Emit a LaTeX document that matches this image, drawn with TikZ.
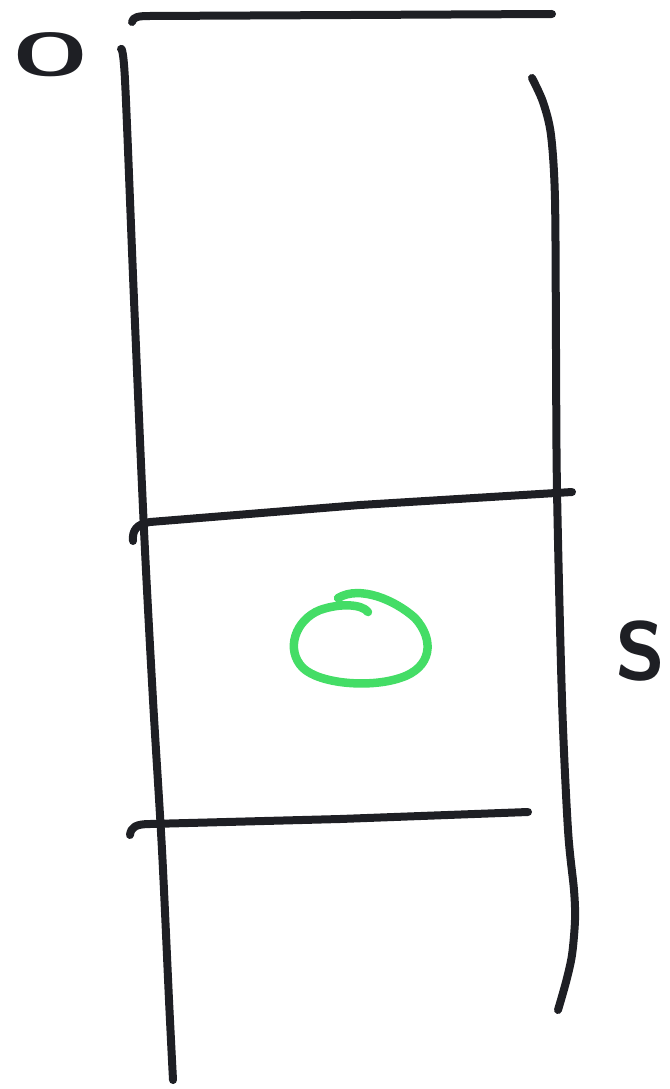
\documentclass[tikz,border=0pt]{standalone}
\usepackage{xcolor}
\usepackage{tikz}
\definecolor{ink}{HTML}{1E1F24}
\definecolor{marker}{HTML}{44DD66}

\begin{document}
\begin{tikzpicture}[x=1pt,y=-1pt,
  stroke/.style={draw=ink,line width=8pt,line cap=round,line join=round},
  loopline/.style={draw=marker,line width=8.5pt,line cap=round,line join=round},
  letter/.style={text=ink,font=\sffamily\bfseries\fontsize{#1}{#1}\selectfont,inner sep=0pt},
  letter/.default=60]
\useasboundingbox (0,0) rectangle (669,1089);
% frame of the column
\draw[stroke] (132,22) .. controls (133,17) and (138,16) .. (150,16) -- (552,14);
\draw[stroke] plot[smooth] coordinates {(121,49) (125,80) (134,300) (144,530) (153,700) (162,850) (169,1000) (173,1080)};
\draw[stroke] plot[smooth] coordinates {(532,78) (543,102) (551,135) (555,200) (556,350) (557,490) (562,700) (568,830) (574,890) (575,920) (572,955) (566,982) (558,1010)};
% cross lines
\draw[stroke] (133,541) .. controls (132,530) and (137,524) .. (150,522) -- (360,505) -- (572,492);
\draw[stroke] (130,835) .. controls (131,827) and (136,824) .. (150,824) -- (340,819) -- (528,812);
% marker
\draw[loopline] (338,598) .. controls (360,585) and (395,600) .. (415,618) .. controls (435,640) and (432,668) .. (400,678) .. controls (370,688) and (320,684) .. (303,668) .. controls (285,650) and (295,620) .. (320,610) .. controls (340,603) and (362,604) .. (368,612);
% labels
\node[letter=60,xscale=1.6] (origin) at (51,55) {O};
\node[letter=82] (size) at (641,651) {S};
\end{tikzpicture}
\end{document}
